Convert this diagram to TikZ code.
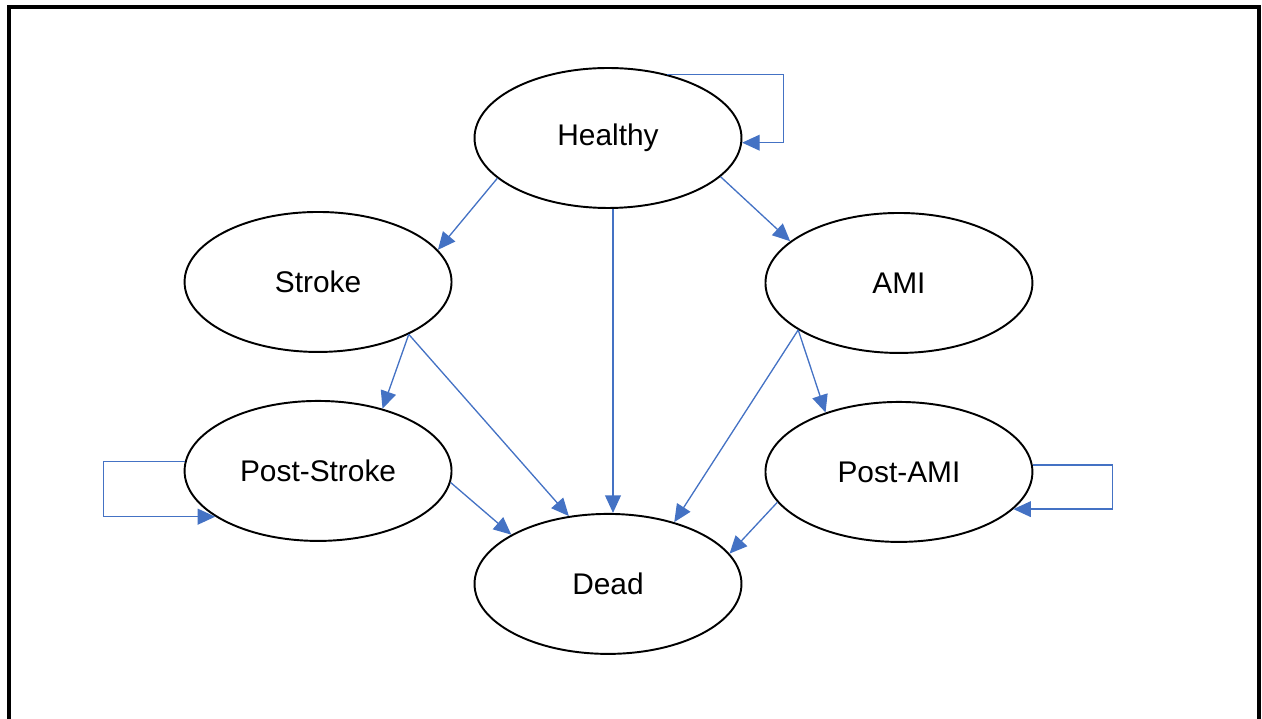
\documentclass[tikz,border=0pt]{standalone}
\usepackage{fontspec}
\setmainfont{Liberation Sans}
\usepackage{tikz}
\usetikzlibrary{arrows.meta, shapes.geometric, positioning}
\definecolor{arrowblue}{HTML}{4472C4}

\begin{document}
\begin{tikzpicture}[x=0.02cm,y=-0.02cm,on grid,
 >={Triangle[length=10pt,width=9pt]},
 state/.style={ellipse,draw,line width=1.1pt,minimum width=5.34cm,
  minimum height=2.8cm,inner sep=0pt,font=\fontsize{17}{20}\selectfont},
 trans/.style={->,draw=arrowblue,line width=0.75pt},
 frame/.style={draw,line width=2pt}]

  \useasboundingbox (0,0) rectangle (1262,719);
  \draw[frame] (9,719) -- (9,7) -- (1259,7) -- (1259,719);

  \node[state] (healthy) at (608,138) {Healthy};
  \node[state] (stroke) [below left=2.88cm and 5.8cm of healthy] {Stroke};
  \node[state] (ami) [below right=2.9cm and 5.82cm of healthy] {AMI};
  \node[state] (poststroke) [below=3.78cm of stroke] {Post-Stroke};
  \node[state] (postami) [below=3.78cm of ami] {Post-AMI};
  \node[state] (dead) [below=8.92cm of healthy] {Dead};

  % transitions between states
  \foreach \s/\t in {healthy.200/stroke.15.6, healthy.341/ami.159,
   stroke.330/poststroke.44.5, stroke.330/dead.120.3,
   ami.205/dead.43.9, ami.205/postami.141.9,
   poststroke.355/dead.153, postami.194.5/dead.14.4} {
   \path[trans] (\s) -- (\t);}

  \path[trans] ([xshift=0.1cm]healthy.south) -- ([xshift=0.1cm]healthy.south |- dead.north);

  % staying in the same state
  \path[trans] (healthy.47) -- ++(116,0) |- (healthy.358);
  \path[trans] (poststroke.176) -- ++(-81,0) |- (poststroke.204);
  \path[trans] (postami.3.4) -- ++(80,0) |- (postami.342);
\end{tikzpicture}
\end{document}
